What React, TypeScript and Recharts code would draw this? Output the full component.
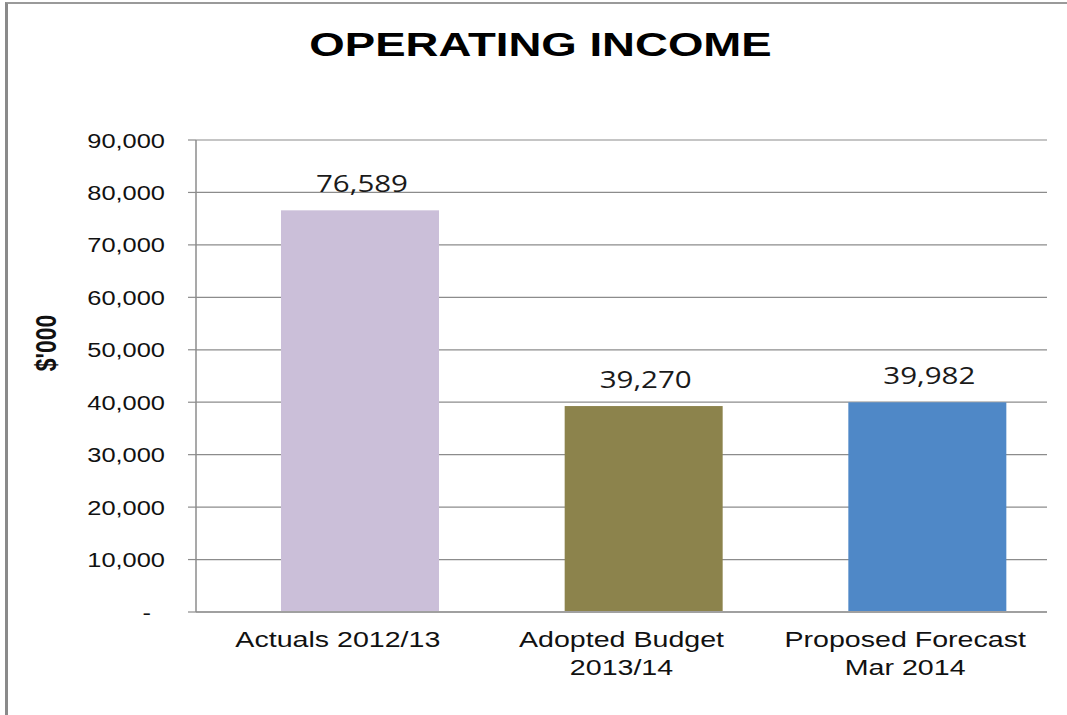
import React from 'react';
import { BarChart, Bar, XAxis, YAxis, CartesianGrid, Cell, LabelList } from 'recharts';

const categories = ['Actuals 2012/13', 'Adopted Budget 2013/14', 'Proposed Forecast Mar 2014'];
const tickLines = [['Actuals 2012/13'], ['Adopted Budget', '2013/14'], ['Proposed Forecast', 'Mar 2014']];
const values = [76589, 39270, 39982];
const barColors = ['#CBBFD9', '#8C834C', '#4F88C7'];
const yTicks = [0, 10000, 20000, 30000, 40000, 50000, 60000, 70000, 80000, 90000];
const boundTicks = [0, 1, 2, 3];

const data = categories.map((name, i) => ({ name, value: values[i] }));

const FONT = '"Liberation Sans", Arial, sans-serif';
const SHIFT = 22;

const fmt = (v: number) => (v === 0 ? '-  ' : v.toLocaleString('en-US'));

const YTick = (props: any) => {
  const { x, y, payload } = props;
  return (
    <g transform={`translate(${x - 23},${y}) scale(1.27,1)`}>
      <text textAnchor="end" dy={7.5} fontSize={20} fontFamily={FONT} fill="#111" style={{ whiteSpace: 'pre' }}>
        {fmt(payload.value)}
      </text>
    </g>
  );
};

const XTick = (props: any) => {
  const { x, y, index } = props;
  const lines = tickLines[index] || [];
  return (
    <g transform={`translate(${x},${y})`}>
      {lines.map((l, i) => (
        <text key={i} transform={`translate(0,${35 + i * 28}) scale(1.3,1)`} textAnchor="middle" fontSize={22} fontFamily={FONT} fill="#111">
          {l}
        </text>
      ))}
    </g>
  );
};

const ShiftedBar = (props: any) => {
  const { x, y, width, height, fill } = props;
  return <rect x={x + SHIFT} y={y} width={width} height={height} fill={fill} />;
};

const DataLabel = (props: any) => {
  const { x, y, width, value } = props;
  return (
    <g transform={`translate(${x + width / 2 + SHIFT + 2},${y - 18.5}) scale(1.23,1)`}>
      <text textAnchor="middle" fontSize={24} fontFamily='"Open Sans", sans-serif' fill="#1a1a1a">
        {Number(value).toLocaleString('en-US')}
      </text>
    </g>
  );
};

const YLabel = (props: any) => {
  const vb = props.viewBox || { x: 0, y: 140, width: 196, height: 472 };
  const cx = vb.x + 46;
  const cy = vb.y + vb.height * 0.43;
  return (
    <g transform={`translate(${cx},${cy}) scale(1.3,1) rotate(-90)`}>
      <text textAnchor="middle" dy={8} fontSize={23} fontWeight="bold" fontFamily={FONT} fill="#111">
        $'000
      </text>
    </g>
  );
};

export default function App() {
  return (
    <div style={{ position: 'absolute', left: 0, top: 0, width: 1067, height: 715, background: '#fff', overflow: 'hidden' }}>
      <div
        style={{
          position: 'absolute',
          left: 5,
          top: 2,
          width: 1080,
          height: 730,
          borderLeft: '3px solid #8a8a8a',
          borderTop: '2px solid #9a9a9a',
        }}
      />
      <div
        style={{
          position: 'absolute',
          left: 0,
          top: 27,
          width: 1082,
          textAlign: 'center',
          fontFamily: FONT,
          fontWeight: 'bold',
          fontSize: 34,
          lineHeight: '34px',
          color: '#000',
        }}
      >
        <span style={{ display: 'inline-block', transform: 'scaleX(1.34)', transformOrigin: 'center' }}>OPERATING INCOME</span>
      </div>
      <div style={{ position: 'absolute', left: 0, top: 0 }}>
        <BarChart width={1067} height={715} data={data} margin={{ top: 140, right: 20, left: 0, bottom: 43 }} barSize={158}>
          <CartesianGrid xAxisId="cat" horizontal vertical={false} stroke="#8c8c8c" strokeWidth={1.2} />
          <XAxis
            xAxisId="bounds"
            type="number"
            domain={[0, 3]}
            ticks={boundTicks}
            tick={() => <g />}
            tickSize={7}
            axisLine={false}
            height={0}
            stroke="#8c8c8c"
            tickLine={{ stroke: '#8c8c8c', strokeWidth: 1.5 }}
            allowDataOverflow
          />
          <XAxis
            xAxisId="cat"
            dataKey="name"
            type="category"
            height={60}
            interval={0}
            tickLine={false}
            tickSize={0}
            tickMargin={0}
            axisLine={{ stroke: '#a0a0a0', strokeWidth: 2 }}
            tick={<XTick />}
          />
          <YAxis
            width={196}
            domain={[0, 90000]}
            ticks={yTicks}
            interval={0}
            tickSize={8}
            tickMargin={0}
            axisLine={{ stroke: '#8c8c8c', strokeWidth: 1.5 }}
            tickLine={{ stroke: '#8c8c8c', strokeWidth: 1.2 }}
            tick={<YTick />}
            label={{ content: <YLabel /> }}
          />
          <Bar xAxisId="cat" dataKey="value" isAnimationActive={false} shape={<ShiftedBar />}>
            {data.map((d, i) => (
              <Cell key={d.name} fill={barColors[i]} />
            ))}
            <LabelList dataKey="value" content={<DataLabel />} />
          </Bar>
        </BarChart>
      </div>
    </div>
  );
}
